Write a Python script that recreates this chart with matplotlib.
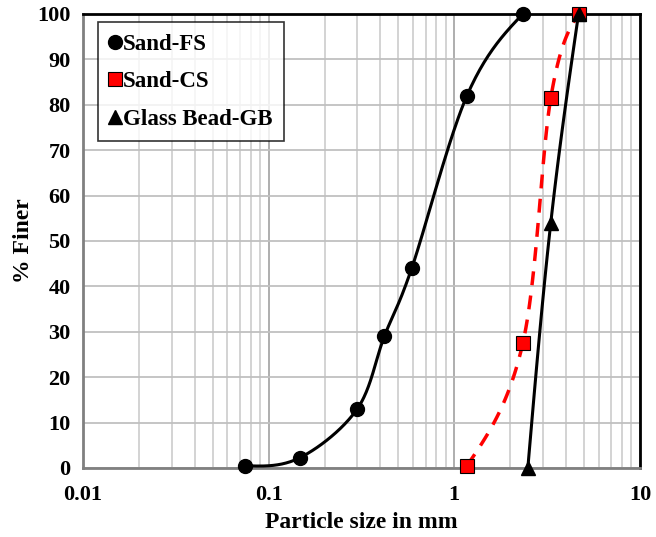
import numpy as np
import matplotlib
matplotlib.use('Agg')
import matplotlib.pyplot as plt
from matplotlib.ticker import FixedLocator, LogLocator, NullFormatter

plt.rcParams['font.family'] = ['Liberation Serif', 'DejaVu Serif']
plt.rcParams['font.weight'] = 'bold'

# Данные
fs_size = [0.075, 0.148, 0.30, 0.42, 0.59, 1.17, 2.34]
fs_finer = [0.5, 2.3, 13.0, 29.0, 44.0, 82.0, 100.0]
cs_size = [1.17, 2.34, 3.31, 4.67]
cs_finer = [0.5, 27.5, 81.5, 100.0]
gb_size = [2.49, 3.31, 4.67]
gb_finer = [0.0, 54.0, 100.0]


def smooth(xs, ys, n=40):
    # сглаженная кривая (кубический Эрмит) в лог-координатах по x
    p = np.column_stack([np.log10(np.asarray(xs, float)),
                         np.asarray(ys, float)])
    k = len(p)
    m = np.zeros_like(p)
    for i in range(1, k - 1):
        m[i] = (p[i + 1] - p[i - 1]) / 2
    m[0] = (3 * (p[1] - p[0]) - m[1]) / 2
    m[-1] = (3 * (p[-1] - p[-2]) - m[-2]) / 2
    t = np.linspace(0, 1, n)[:, None]
    h00 = 2 * t ** 3 - 3 * t ** 2 + 1
    h10 = t ** 3 - 2 * t ** 2 + t
    h01 = -2 * t ** 3 + 3 * t ** 2
    h11 = t ** 3 - t ** 2
    segs = [h00 * p[i] + h10 * m[i] + h01 * p[i + 1] + h11 * m[i + 1]
            for i in range(k - 1)]
    c = np.vstack(segs)
    return 10 ** c[:, 0], c[:, 1]


fig = plt.figure(figsize=(6.56, 5.37), dpi=100)
ax = fig.add_axes([0.1265, 0.1285, 0.849, 0.8455])

x, y = smooth(fs_size, fs_finer)
ax.plot(x, y, color='black', lw=2.2, zorder=3)
ax.plot(fs_size, fs_finer, 'o', color='black', ms=10, zorder=4,
        clip_on=False, label='Sand-FS')

x, y = smooth(cs_size, cs_finer)
ax.plot(x, y, color='red', lw=2.5, ls=(0, (4, 3)), zorder=3)
ax.plot(cs_size, cs_finer, 's', mfc='red', mec='black', mew=0.8, ms=10,
        zorder=4, clip_on=False, label='Sand-CS')

x, y = smooth(gb_size, gb_finer)
ax.plot(x, y, color='black', lw=2.2, zorder=3)
ax.plot(gb_size, gb_finer, '^', color='black', ms=10, zorder=5,
        clip_on=False, label='Glass Bead-GB')

ax.set_xscale('log')
ax.set_xlim(0.01, 10)
ax.set_ylim(0, 100)
ax.xaxis.set_major_locator(FixedLocator([0.01, 0.1, 1, 10]))
ax.set_xticklabels(['0.01', '0.1', '1', '10'])
ax.xaxis.set_minor_locator(LogLocator(base=10, subs=np.arange(2, 10)))
ax.xaxis.set_minor_formatter(NullFormatter())
ax.set_yticks(np.arange(0, 101, 10))
ax.grid(True, which='major', axis='x', color='#a8a8a8', lw=1.3)
ax.grid(True, which='minor', axis='x', color='#cccccc', lw=1.2)
ax.grid(True, which='major', axis='y', color='#c0c0c0', lw=1.3)
ax.set_axisbelow(True)
ax.tick_params(which='both', length=0, labelsize=16)
ax.tick_params(axis='y', pad=9)
ax.tick_params(axis='x', pad=12)

for s in ('left', 'bottom'):
    ax.spines[s].set_color('#808080')
    ax.spines[s].set_linewidth(2)
for s in ('top', 'right'):
    ax.spines[s].set_color('black')
    ax.spines[s].set_linewidth(2)

ax.set_xlabel('Particle size in mm', fontsize=17, fontweight='bold',
              labelpad=5)
ax.set_ylabel('% Finer', fontsize=17, fontweight='bold', labelpad=2)

leg = ax.legend(loc='upper left', bbox_to_anchor=(0.027, 0.982),
                borderaxespad=0, fontsize=16.5,
                frameon=True, fancybox=False, edgecolor='black',
                handlelength=0.5, handletextpad=0.1, labelspacing=0.72,
                borderpad=0.5, markerscale=1.0)
leg.get_frame().set_linewidth(1.2)

plt.savefig('out.png', dpi=100)
plt.close()
